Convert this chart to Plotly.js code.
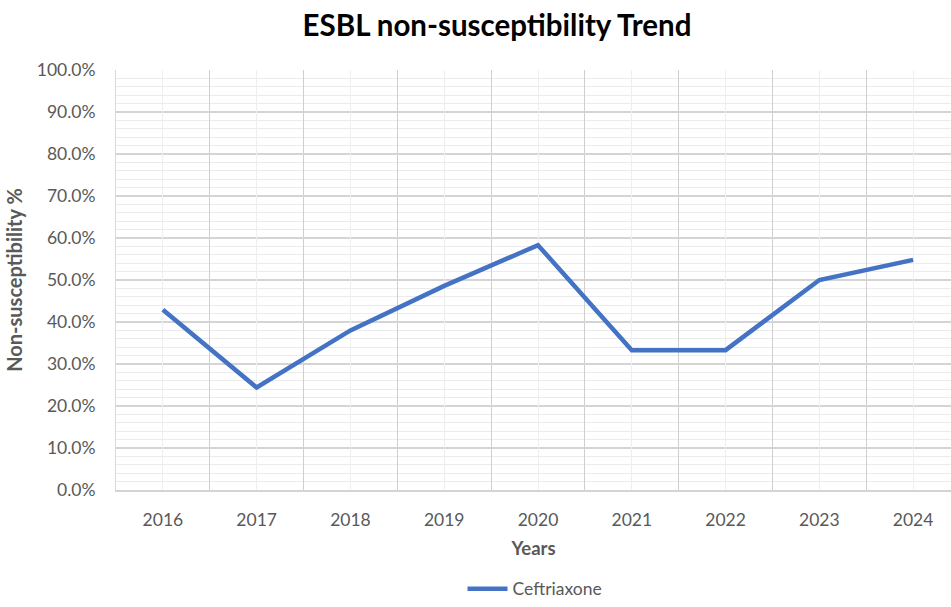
<!DOCTYPE html>
<html>
<head>
<meta charset="utf-8">
<script src="https://cdn.plot.ly/plotly-3.0.1.min.js"></script>
<style>html,body{margin:0;padding:0;background:#fff;}#chart{width:951px;height:607px;}</style>
</head>
<body>
<div id="chart"></div>
<script>
const years = ["2016","2017","2018","2019","2020","2021","2022","2023","2024"];
const seriesName = "Ceftriaxone";
const ceftriaxone = [0.429, 0.244, 0.380, 0.486, 0.583, 0.333, 0.333, 0.500, 0.548];
const yTickVals = [0,0.1,0.2,0.3,0.4,0.5,0.6,0.7,0.8,0.9,1.0];

const font = "Lato, 'Open Sans', sans-serif";
const xr = [-0.5, 8.404];

const traces = [
  {x: years, y: ceftriaxone, type: "scatter", mode: "lines", name: seriesName,
   line: {color: "#4472C4", width: 4.5}, xaxis: "x", yaxis: "y"},
  {x: years.map((_, i) => i), y: years.map(() => null), xaxis: "x2", yaxis: "y",
   showlegend: false, hoverinfo: "skip", mode: "lines"}
];

const layout = {
  width: 951, height: 607,
  margin: {l: 116, r: 0, t: 70, b: 117},
  paper_bgcolor: "#fff", plot_bgcolor: "#fff",
  font: {family: font, color: "#595959"},
  title: {text: "ESBL non-susceptibility Trend", font: {family: font, size: 29.5, color: "#000", weight: "bold"},
          x: 497/951, xref: "container", xanchor: "center", y: 1 - 26/607, yref: "container", yanchor: "middle"},
  xaxis: {type: "category", range: xr, tickson: "boundaries", showgrid: true, gridcolor: "#cfcfcf", gridwidth: 1,
          ticks: "", showline: true, linecolor: "#d4d4d4", linewidth: 1.5, zeroline: false, tickangle: 0,
          automargin: false,
          tickfont: {size: 17.5, color: "#595959"}, ticklabelstandoff: 13,
          title: {text: "Years", font: {size: 18.5, color: "#595959", weight: "bold"}, standoff: 13}},
  xaxis2: {overlaying: "x", range: xr, tickvals: [0,1,2,3,4,5,6,7,8], showgrid: true, gridcolor: "#efefef", gridwidth: 1,
           showticklabels: false, ticks: "", zeroline: false, showline: false},
  yaxis: {range: [0, 1.0], tickvals: yTickVals, tickformat: ".1%", showgrid: true, gridcolor: "#d4d4d4", gridwidth: 1.2,
          minor: {dtick: 0.02, showgrid: true, gridcolor: "#ebebeb", gridwidth: 1, ticks: ""},
          zeroline: false, showline: true, linecolor: "#d9d9d9", linewidth: 1, ticks: "", automargin: false,
          tickfont: {size: 17.5, color: "#595959"}, ticklabelstandoff: 16,
          title: {text: "Non-susceptibility %", font: {size: 20, color: "#595959", weight: "bold"}, standoff: 8}},
  showlegend: true,
  legend: {orientation: "h", x: (535 - 116) / (951 - 116), xanchor: "center", y: -0.278, yanchor: "bottom",
           font: {size: 17.5, color: "#595959"}, itemwidth: 40}
};

Plotly.newPlot("chart", traces, layout, {displayModeBar: false, staticPlot: true});
</script>
</body>
</html>
